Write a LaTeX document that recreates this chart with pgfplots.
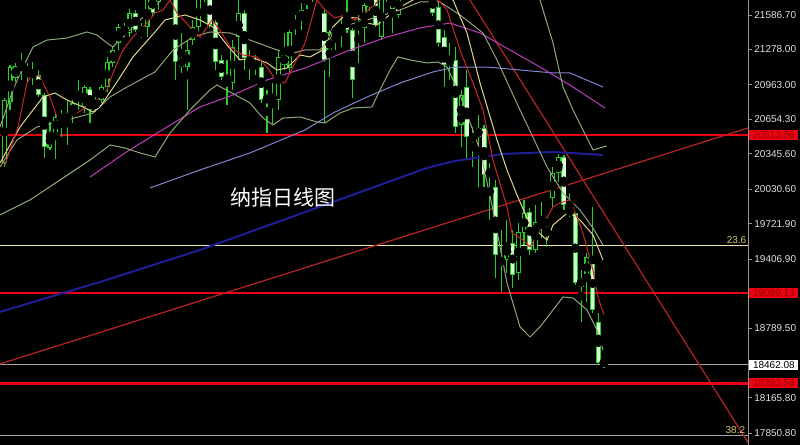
\documentclass[border=0pt]{standalone}
\usepackage{pgfplots}
\pgfplotsset{compat=1.18}
\usepackage{pgfplotstable}
\usepackage{fontspec}
\setmainfont{Liberation Sans}
\newfontfamily\cjk{Noto Sans CJK SC}
\definecolor{cg}{RGB}{40,205,40}
\definecolor{pale}{RGB}{210,255,210}
\definecolor{ma5}{RGB}{200,40,40}
\definecolor{ma10}{RGB}{225,215,140}
\definecolor{ma20}{RGB}{150,160,120}
\definecolor{band}{RGB}{140,170,120}
\definecolor{mag}{RGB}{190,60,190}
\definecolor{slate}{RGB}{130,130,210}
\definecolor{navy}{RGB}{30,30,150}
\definecolor{hred}{RGB}{235,0,20}
\definecolor{tred}{RGB}{185,35,35}
\definecolor{fibyel}{RGB}{235,235,170}
\definecolor{hgray}{RGB}{165,165,165}
\definecolor{axgray}{RGB}{150,150,150}
\definecolor{lblgray}{RGB}{225,225,225}
\definecolor{boxtext}{RGB}{150,0,0}
\definecolor{fibtext}{RGB}{210,200,110}

\pgfplotstableread{
n o h l c
0 20264 20845 20229 20827
1 20809 21140 20738 21122
2 21024 21158 20988 21131
5 21051 21167 20961 21078
8 20398 20631 20380 20532
9 20532 20711 20300 20675
11 20631 20818 20425 20711
12 20693 20827 20622 20800
14 20765 20961 20711 20943
16 20756 20854 20720 20827
17 20827 20961 20800 20943
18 20943 21212 20899 21167
19 21158 21301 21122 21274
20 21337 21506 21274 21480
22 21426 21641 21390 21605
25 21480 21770 21390 21730
27 21700 21830 21632 21780
28 21760 21900 21720 21850
32 21122 21363 20738 21274
33 21363 21542 21319 21480
34 21480 21780 21440 21740
35 21740 21850 21700 21800
40 20979 21363 20917 21301
41 21390 21721 21185 21605
48 20827 21274 20738 21212
50 21113 21453 21051 21435
51 21471 21587 21408 21542
52 21542 21694 21453 21632
53 21676 21790 21640 21750
54 21750 21870 21700 21820
57 21212 21453 21033 21435
58 21408 21480 21274 21471
59 21435 21569 21301 21497
63 21471 21694 21337 21676
64 21658 21780 21620 21740
66 21390 21790 21363 21740
67 21740 21850 21700 21790
68 21640 21780 21426 21760
69 21590 21800 21560 21760
70 21800 21950 21760 21880
71 21880 22000 21840 21950
73 21900 22080 21880 22000
78 21167 21337 21006 21212
80 20604 20917 20407 20872
82 20470 20586 20229 20514
83 20497 20693 20050 20577
88 19397 19755 19281 19549
90 19281 19728 19219 19648
91 19639 19934 19531 19817
93 19487 19889 19460 19737
95 19692 19782 19514 19773
96 19951 20229 19871 20175
97 20175 20345 20095 20318
101 19156 19308 18843 19236
102 19236 19460 19022 19424
}\bull

\pgfplotstableread{
n o h l c
3 21176 21247 21006 21113
4 21104 21158 20988 21078
6 21051 21095 20854 20872
7 20872 20890 20309 20407
10 20675 20738 20497 20657
13 20872 21006 20738 20836
15 20926 20943 20622 20738
21 21480 21515 21390 21408
23 21605 21632 21435 21453
24 21453 21515 21381 21408
26 21760 21800 21580 21605
29 21880 21920 21740 21770
30 21760 21800 21006 21167
31 21203 21426 21069 21122
36 21760 21800 21470 21497
37 21524 21542 21095 21167
38 21185 21229 21006 21033
39 21051 21185 20783 20979
42 21605 21632 21095 21203
43 21194 21274 21006 21158
44 21158 21229 21051 21122
45 21122 21185 20800 20827
46 20845 20917 20532 20827
47 20872 20979 20604 20818
49 21229 21426 21095 21140
55 21850 21900 21730 21760
56 21605 21640 20622 21185
60 21569 21721 21426 21453
61 21453 21471 20845 21006
62 21497 21587 21158 21480
65 21740 21780 21480 21497
72 21980 22050 21870 21900
74 22000 22133 21780 21800
75 21760 21800 21580 21605
76 21658 21700 21300 21337
77 21390 21453 20943 21140
79 21185 21301 20532 20586
81 20943 21095 20291 20497
84 20577 20604 20050 20157
85 20184 20264 19755 20166
86 20050 20112 19236 19442
87 19397 19665 19111 19371
89 19549 19665 19147 19263
92 19826 19862 19442 19487
94 19746 19916 19594 19683
98 20318 20336 19844 19889
99 19853 19996 19782 19817
100 19817 19826 19174 19192
103 19424 19871 18924 18951
104 18843 18924 18459 18477
105 18500 18522 18435 18462.08
}\bear

\begin{document}
\begin{tikzpicture}
\fill[black] (0,0) rectangle (400pt,222.5pt);
\begin{axis}[
  at={(0,0)}, anchor=south west,
  width=374pt, height=222.5pt, scale only axis,
  xmin=-0.753, xmax=130.22, ymin=17743.8, ymax=21720.8,
  axis x line=none, axis y line*=right,
  y axis line style={draw=axgray, line width=0.5pt},
  scaled y ticks=false,
  ytick={21586.7,21278,20963,20654.3,20345.6,20030.6,19721.9,19406.9,18789.5,18165.8,17850.8},
  yticklabels={21586.70,21278.00,20963.00,20654.30,20345.60,20030.60,19721.90,19406.90,18789.50,18165.80,17850.80},
  yticklabel style={font=\fontsize{5}{6}\selectfont, text=lblgray, inner sep=1pt},
  ytick style={draw=axgray, line width=0.4pt},
  tick align=outside, major tick length=2pt,
  clip=true,
]
% horizontal levels and trend lines
\addplot[color=hred, line width=0.9pt] coordinates {(-0.753,20513.66) (130.22,20513.66)};
\addplot[color=fibyel, line width=0.5pt] coordinates {(-0.753,19531) (130.22,19531)};
\addplot[color=hred, line width=0.9pt] coordinates {(-0.753,19099.13) (130.22,19099.13)};
\addplot[color=hgray, line width=0.5pt] coordinates {(-0.753,18462.08) (130.22,18462.08)};
\addplot[color=hred, line width=1.1pt] coordinates {(-0.753,18293.54) (130.22,18293.54)};
\addplot[color=hgray, line width=0.5pt] coordinates {(-0.753,17833) (130.22,17833)};
\addplot[color=tred, line width=0.6pt] coordinates {(-0.753,18468) (130.22,20577)};
\addplot[color=tred, line width=0.6pt] coordinates {(81.54,21721) (130.5,17744)};

% wicks
\addplot[only marks, mark=none, error bars/.cd, y dir=both, y explicit, error mark=none, error bar style={draw=cg, line width=0.55pt, solid}]
  table[x=n, y expr={(\thisrow{h}+\thisrow{l})/2}, y error expr={(\thisrow{h}-\thisrow{l})/2}] {\bull};
\addplot[only marks, mark=none, error bars/.cd, y dir=both, y explicit, error mark=none, error bar style={draw=cg, line width=0.55pt, solid}]
  table[x=n, y expr={(\thisrow{h}+\thisrow{l})/2}, y error expr={(\thisrow{h}-\thisrow{l})/2}] {\bear};
% bull bodies (hollow)
\addplot[only marks, mark=none, error bars/.cd, y dir=both, y explicit, error mark=none, error bar style={draw=cg, line width=2.5pt, solid}]
  table[x=n, y expr={(\thisrow{o}+\thisrow{c})/2}, y error expr={abs(\thisrow{c}-\thisrow{o})/2}] {\bull};
\addplot[only marks, mark=none, error bars/.cd, y dir=both, y explicit, error mark=none, error bar style={draw=black, line width=1.3pt, solid}]
  table[x=n, y expr={(\thisrow{o}+\thisrow{c})/2}, y error expr={max(abs(\thisrow{c}-\thisrow{o})/2-8,0)}] {\bull};
% bear bodies (filled)
\addplot[only marks, mark=none, error bars/.cd, y dir=both, y explicit, error mark=none, error bar style={draw=cg, line width=2.5pt, solid}]
  table[x=n, y expr={(\thisrow{o}+\thisrow{c})/2}, y error expr={abs(\thisrow{c}-\thisrow{o})/2}] {\bear};
\addplot[only marks, mark=none, error bars/.cd, y dir=both, y explicit, error mark=none, error bar style={draw=pale, line width=1.7pt, solid}]
  table[x=n, y expr={(\thisrow{o}+\thisrow{c})/2}, y error expr={max(abs(\thisrow{c}-\thisrow{o})/2-8,0)}] {\bear};

% navy long MA
\addplot[color=navy, line width=1pt] coordinates {(-0.75,18933) (16.76,19201) (34.27,19487) (51.78,19809) (65.79,20068) (74.02,20220) (78.92,20282) (87.32,20345) (96.08,20363) (104.83,20336)};
% slate MA
\addplot[color=slate, line width=0.5pt] coordinates {(25.51,20041) (34.27,20202) (43.02,20354) (52.65,20559) (57.55,20711) (63.51,20854) (69.29,20979) (75.07,21078) (78.92,21122) (84.52,21122) (90.30,21095) (96.08,21069) (99.05,21069) (104.83,20943)};
% magenta MA
\addplot[color=mag, line width=0.5pt] coordinates {(15.01,20139) (21.13,20354) (26.74,20532) (34.27,20765) (40.05,20872) (46.00,21006) (52.65,21113) (60.54,21274) (67.01,21390) (72.79,21471) (78.04,21515) (83.30,21426) (88.55,21274) (93.80,21122) (99.58,20943) (105.18,20756)};
% bollinger upper
\addplot[color=band, line width=0.5pt] coordinates {(-0.75,20586) (1.52,20917) (3.27,21122) (5.03,21301) (7.48,21363) (10.98,21381) (14.48,21435) (16.23,21408) (17.98,21337) (19.03,21301) (21.48,21426) (23.76,21542) (26.39,21658) (28.14,21766) (34.27,21989) (86.8,21989) (90.30,21900) (93.80,21721) (96.08,21337) (97.83,20943) (99.58,20738) (101.33,20559) (103.08,20380) (104.83,20407) (105.5,20416)};
% bollinger lower
\addplot[color=band, line width=0.5pt] coordinates {(-0.75,19800) (4.50,19934) (9.75,20112) (15.01,20291) (18.51,20425) (21.13,20398) (23.76,20354) (26.39,20318) (29.01,20532) (32.51,20738) (36.02,20917) (37.24,20961) (39.52,20899) (43.02,20800) (45.30,20666) (47.05,20604) (48.80,20666) (51.78,20675) (54.75,20631) (56.15,20622) (58.78,20711) (61.05,20756) (64.38,20765) (65.79,20917) (67.54,21095) (68.94,21212) (71.04,21185) (74.02,21158) (75.94,21167) (77.52,21122) (79.80,20872) (83.30,20380) (85.57,19844) (88.02,19192) (90.30,18799) (92.05,18709) (93.80,18799) (97.83,19067) (99.58,19058) (102.03,18951) (103.78,18772) (104.83,18593)};
% MA20
\addplot[color=ma20, line width=0.5pt] coordinates {(-0.75,20229) (2.22,20470) (5.73,20586) (10.98,20649) (15.53,20711) (18.51,20854) (21.48,20943) (26.39,21078) (29.54,21274) (33.04,21390) (36.02,21435) (39.52,21426) (43.02,21363) (47.75,21274) (50.55,21247) (52.65,21274) (55.28,21274) (58.78,21480) (63.51,21542) (69.29,21632) (72.79,21703) (76.29,21703) (79.80,21587) (83.82,21426) (86.27,21185) (90.30,20738) (95.03,20229) (97.83,19996) (100.80,19844) (103.08,19683) (104.83,19531)};
% MA10
\addplot[color=ma10, line width=0.5pt] coordinates {(-0.75,20264) (2.75,20586) (6.78,20854) (8.88,20890) (10.98,20827) (13.78,20765) (15.53,20720) (16.76,20765) (19.73,20988) (22.53,21212) (26.39,21435) (28.14,21542) (31.64,21587) (34.27,21542) (36.54,21480) (38.99,21319) (41.27,21185) (43.55,21203) (46.00,21158) (47.75,21095) (49.50,21113) (51.78,21229) (53.53,21212) (55.80,21274) (57.55,21480) (59.30,21569) (61.76,21560) (63.51,21515) (65.26,21497) (67.01,21569) (69.29,21658) (71.57,21721) (74.54,21810) (77.17,21766) (78.57,21721) (81.02,21426) (83.30,20979) (86.27,20470) (88.02,20202) (89.77,19978) (92.05,19710) (95.03,19576) (96.08,19710) (98.77,19826) (100.80,19755) (103.08,19621) (104.83,19397)};
% MA5
\addplot[color=ma5, line width=0.5pt] coordinates {(0.12,20246) (2.40,20586) (3.97,20979) (5.03,21069) (6.25,21033) (8.00,20854) (9.23,20675) (10.28,20649) (12.73,20711) (16.23,20827) (17.98,20917) (19.03,21069) (20.78,21274) (22.53,21390) (24.98,21515) (26.39,21605) (27.79,21632) (29.01,21721) (30.24,21605) (32.51,21480) (34.27,21390) (36.37,21542) (37.77,21453) (39.52,21301) (41.80,21229) (44.25,21212) (46.00,21122) (47.75,20988) (49.15,20979) (50.55,21122) (52.65,21337) (54.75,21721) (56.15,21632) (57.90,21560) (59.65,21587) (61.41,21542) (63.16,21614) (64.91,21676) (66.66,21810) (71.04,21900) (74.54,21766) (76.29,21703) (77.52,21632) (79.80,21274) (82.07,20979) (83.82,20738) (85.57,20291) (88.02,19871) (88.90,19639) (90.82,19576) (92.05,19514) (93.80,19665) (96.08,19871) (97.30,19907) (99.05,19934) (101,19690) (102,19512) (103,19324) (104,19056) (105,18910)};

\node[text=white, font=\cjk\fontsize{10.5}{12}\selectfont] at (axis cs:48.8,19960) {纳指日线图};
\node[anchor=south east, text=fibtext, font=\fontsize{5}{6}\selectfont, inner sep=0.6pt] at (axis cs:130.2,19531) {23.6};
\node[anchor=south east, text=fibtext, font=\fontsize{5}{6}\selectfont, inner sep=0.6pt] at (axis cs:130.0,17833) {38.2};

\coordinate (L1) at (axis cs:130.22,20513.66);
\coordinate (L2) at (axis cs:130.22,19099.13);
\coordinate (L3) at (axis cs:130.22,18462.08);
\coordinate (L4) at (axis cs:130.22,18293.54);
\end{axis}
\tikzset{pbox/.style={anchor=west, minimum width=24.5pt, minimum height=5pt, inner sep=0pt, font=\fontsize{5}{6}\selectfont}}
\node[pbox, fill=hred, text=boxtext] at ([xshift=0.5pt]L1) {20513.66};
\node[pbox, fill=hred, text=boxtext] at ([xshift=0.5pt]L2) {19099.13};
\node[pbox, fill=white, text=black] at ([xshift=0.5pt]L3) {18462.08};
\node[pbox, fill=hred, text=boxtext] at ([xshift=0.5pt]L4) {18293.54};
\pgfresetboundingbox
\path[use as bounding box] (0,0) rectangle (400pt,222.5pt);
\end{tikzpicture}
\end{document}
